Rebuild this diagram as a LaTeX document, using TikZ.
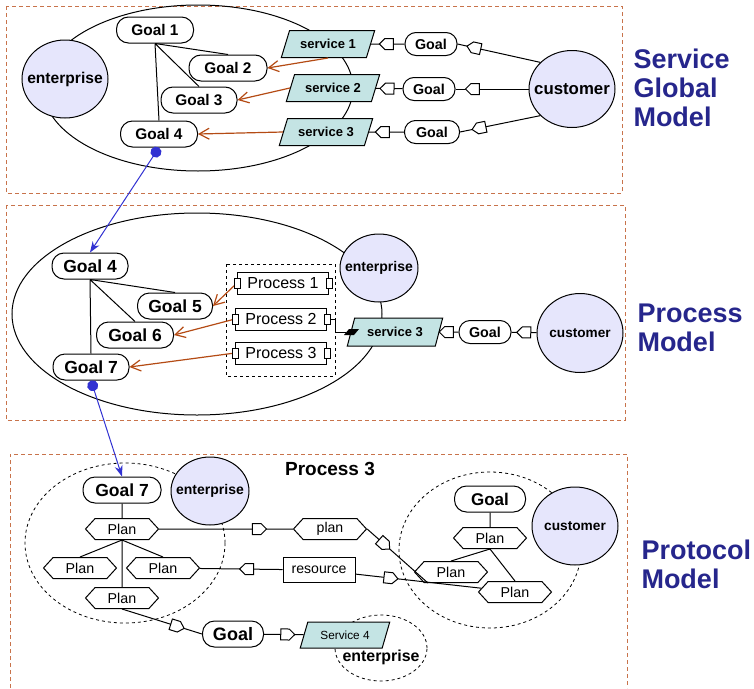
\documentclass[tikz,border=0pt]{standalone}
\usepackage{fontspec}
\setmainfont{Liberation Sans}
\usetikzlibrary{shapes.geometric,shapes.symbols,arrows.meta,calc}

\definecolor{framecol}{RGB}{200,115,75}
\definecolor{linkbrown}{RGB}{180,75,20}
\definecolor{linkblue}{RGB}{50,50,210}
\definecolor{titlecol}{RGB}{38,38,140}
\definecolor{entfill}{RGB}{230,230,252}
\definecolor{srvfill}{RGB}{196,228,228}

\newcommand{\fsz}[1]{\fontsize{#1}{#1}\selectfont}
\newcommand{\ctext}[1]{\makebox[0pt]{#1}}

\tikzset{
  modelbox/.style={framecol, line width=1pt, dash pattern=on 4pt off 3pt},
  goal/.style={draw, fill=white, rounded corners=12pt, minimum height=26pt, inner sep=0pt, font=\bfseries\fsz{15.4}},
  bgoal/.style={goal, font=\bfseries\fsz{17.5}},
  sgoal/.style={goal, minimum width=52pt, minimum height=23pt, rounded corners=11pt, font=\bfseries\fsz{14.3}},
  ent/.style={draw, ellipse, fill=entfill, inner sep=0pt, font=\bfseries\fsz{14}},
  srv/.style={draw, trapezium, trapezium stretches=true, trapezium left angle=58, trapezium right angle=122,
    fill=srvfill, minimum width=94pt, minimum height=27pt, inner sep=0pt, font=\bfseries\fsz{13}},
  proc/.style={draw, fill=white, minimum width=91pt, minimum height=22pt, inner sep=0pt, font=\fsz{16}},
  plan/.style={draw, fill=white, signal, signal to=west and east, signal pointer angle=95,
    minimum width=73pt, minimum height=21pt, inner sep=0pt, font=\fsz{14.3}},
  dep/.style={draw, fill=white, signal, signal to=east, signal pointer angle=90, minimum width=14pt,
    minimum height=11pt, inner sep=0pt, sloped, allow upside down},
  uses/.style={linkbrown, line width=1.2pt, -{Straight Barb[length=10pt,width=11pt]}},
  refine/.style={linkblue, line width=1pt, {Circle[length=11pt]}-{Stealth[length=11pt,width=8pt]}},
  title/.style={titlecol, font=\bfseries\fontsize{27}{29}\selectfont, align=left, anchor=west, inner sep=0pt}
}

\begin{document}
\begin{tikzpicture}[x=1pt, y=-1pt, line width=1pt]
  \useasboundingbox (0,0) rectangle (754,688);

  % Service Global Model
  \draw[modelbox] (6,6) rectangle (622,193);
  \draw (198,88) ellipse [x radius=155, y radius=83];
  \node[ent, minimum width=86pt, minimum height=78pt, font=\bfseries\fsz{15.6}] (ent1) at (65,79) {\ctext{enterprise}};
  \node[ent, minimum width=86pt, minimum height=77pt, font=\bfseries\fsz{16.8}] (cust1) at (572,89) {\ctext{customer}};
  \node[goal, minimum width=77pt] (g1) at (155,30) {Goal 1};
  \node[goal, minimum width=78pt] (g2) at (228,68) {Goal 2};
  \node[goal, minimum width=76pt] (g3) at (199,100) {Goal 3};
  \node[goal, minimum width=77pt] (g4) at (159,134) {Goal 4};
  \node[srv] (s1) at (328,44) {service 1};
  \node[srv] (s2) at (333,88) {service 2};
  \node[srv] (s3) at (326,132) {service 3};
  \node[sgoal] (ga) at (431,44) {Goal};
  \node[sgoal] (gb) at (429,89) {Goal};
  \node[sgoal, minimum width=55pt] (gc) at (432,132) {Goal};

  \draw (g1.south) -- (g2.north) (g1.south) -- (g3.north) (g1.south) -- (g4.north);
  \draw[uses] (s1.south) -- (g2.east);
  \draw[uses] (s2.west) -- (g3.east);
  \draw[uses] (s3.west) -- (g4.east);
  \draw (ga) -- node[dep, pos=0.46] {} (s1);
  \draw (gb) -- node[dep, pos=0.48] {} (s2);
  \draw (gc) -- node[dep, pos=0.54] {} (s3);
  \draw (cust1.140) -- node[dep, pos=0.77] {} (ga.east);
  \draw (cust1) -- node[dep, pos=0.73] {} (gb);
  \draw (cust1.220) -- node[dep, pos=0.73] {} (gc.east);
  \node[title] (lt1) at (633,88) {Service\\Global\\Model};

  % Process Model
  \draw[modelbox] (6,205) rectangle (625,420);
  \draw (197,314) ellipse [x radius=185, y radius=101];
  \node[ent, minimum width=78pt, minimum height=68pt] (ent2) at (379,268) {\ctext{enterprise}};
  \node[ent, minimum width=86pt, minimum height=79pt, font=\bfseries\fsz{13.6}] (cust2) at (580,333) {\ctext{customer}};
  \node[srv, minimum width=96pt, minimum height=28pt, trapezium left angle=62, trapezium right angle=118] (s3m) at (395,332) {service 3};
  \node[sgoal] (mg) at (485,332) {Goal};
  \node[bgoal, minimum width=76pt] (m4) at (90,266) {Goal 4};
  \node[bgoal, minimum width=75pt] (m5) at (175,306) {Goal 5};
  \node[bgoal, minimum width=77pt] (m6) at (135,335) {Goal 6};
  \node[bgoal, minimum width=76pt] (m7) at (91,367) {Goal 7};
  \draw[dashed, line width=0.8pt] (226,264) rectangle (335,376);
  \node[proc] (p1) at (283,283) {Process 1};
  \node[proc] (p2) at (281,319) {Process 2};
  \node[proc] (p3) at (281,353) {Process 3};

  \draw (m4.south) -- (m5.north) (m4.south) -- (m6.north) (m4.south) -- (m7.north);
  \draw[uses] (p1.west) -- (m5.east);
  \draw[uses] (p2.west) -- (m6.east);
  \draw[uses] (p3.west) -- (m7.east);
  \coordinate (bar) at (346,332);
  \draw (p2.east) -- ++(8,0) |- (bar);
  \fill (bar) ++(-2,3) -- ++(5,-6) -- ++(10,0) -- ++(-5,6) -- cycle;
  \foreach \p in {p1,p2,p3}
    \foreach \a in {west,east}
      \draw[fill=white, line width=0.8pt] ($(\p.\a)+(-3,-5)$) rectangle ++(6,10);
  \draw (mg) -- node[dep, pos=0.5] {} (s3m);
  \draw (cust2) -- node[dep, pos=0.4] {} (mg);
  \node[title] (lt2) at (637,328) {Process\\Model};

  % Protocol Model
  \draw[modelbox] (10,688) |- (627,454) -- (627,688);
  \node[font=\bfseries\fsz{19}] (t3) at (330,469) {Process 3};
  \draw[dashed, line width=0.8pt] (125,543) ellipse [x radius=100, y radius=80];
  \draw[dashed, line width=0.8pt] (490,550) ellipse [x radius=91, y radius=78];
  \node[ellipse, draw, dashed, line width=0.8pt, minimum width=92pt, minimum height=66pt,
    label={[font=\bfseries\fsz{15.9}, yshift=-9pt]center:enterprise}] (ent4) at (381,648) {};
  \node[ent, minimum width=78pt, minimum height=68pt] (ent3) at (210,491) {\ctext{enterprise}};
  \node[ent, minimum width=86pt, minimum height=78pt, font=\bfseries\fsz{13.7}] (cust3) at (575,526) {\ctext{customer}};
  \node[bgoal, minimum width=78pt] (b7) at (122,490) {Goal 7};
  \node[plan] (pl1) at (122,529) {Plan};
  \node[plan] (pl2) at (80,568) {Plan};
  \node[plan] (pl3) at (163,568) {Plan};
  \node[plan] (pl4) at (122,598) {Plan};
  \node[plan, font=\fsz{14.1}] (pln) at (330,529) {plan};
  \node[draw, fill=white, minimum width=72pt, minimum height=25pt, inner sep=0pt, font=\fsz{14.1}] (res) at (319,570) {resource};
  \node[bgoal, minimum width=61pt, font=\bfseries\fsz{18}] (bg) at (233,634) {Goal};
  \node[srv, minimum width=90pt, minimum height=26pt, trapezium left angle=60, trapezium right angle=120, font=\fsz{11.8}] (s4) at (345,635) {Service 4};
  \node[bgoal, minimum width=71pt, font=\bfseries\fsz{17}] (cg) at (490,499) {Goal};
  \node[plan] (cp1) at (490,538) {Plan};
  \node[plan] (cp2) at (451,572) {Plan};
  \node[plan] (cp3) at (515,592) {Plan};
  \coordinate (cp2in) at ($(cp2.south)+(-23,0)$);

  \draw (b7) -- (pl1);
  \draw (pl1.south) -- (pl2.north) (pl1.south) -- (pl3.north) (pl1.south) -- (pl4.north);
  \draw (pl1) -- node[dep, pos=0.73] {} (pln);
  \draw (pln.east) -- node[dep, pos=0.25] {} (cp2in);
  \draw (res) -- node[dep, pos=0.4] {} (pl3);
  \draw (res) -- node[dep, pos=0.26] {} (cp3);
  \draw (pl4.south) -- node[dep, pos=0.66] {} (bg.west);
  \draw (bg) -- node[dep, pos=0.53] {} (s4);
  \draw (cg) -- (cp1);
  \draw (cp1.south) -- (cp2.north) (cp1.south) -- (cp3.north);
  \node[title] (lt3) at (641,564) {Protocol\\Model};

  % links between the models
  \draw[refine] (g4.south) -- (m4.north);
  \draw[refine] (m7.south) -- (b7.north);
\end{tikzpicture}
\end{document}
